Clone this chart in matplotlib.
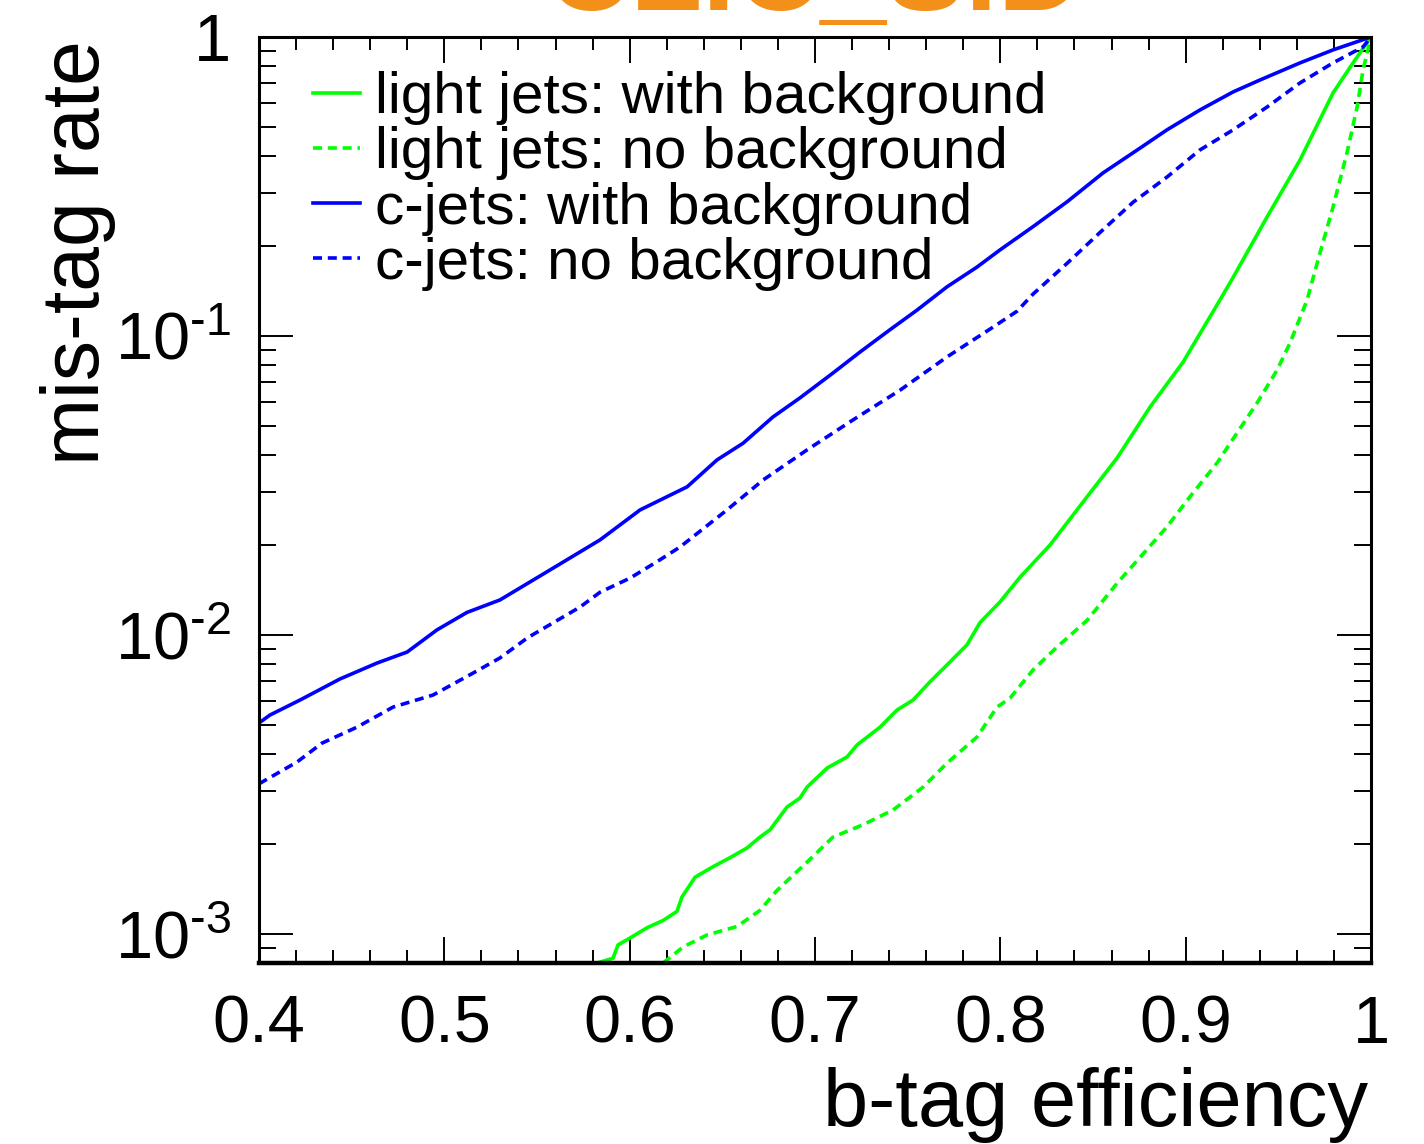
import numpy as np
import matplotlib
matplotlib.use("Agg")
import matplotlib.pyplot as plt
from matplotlib.ticker import MultipleLocator, LogLocator, FuncFormatter, NullFormatter

plt.rcParams["font.family"] = ["Liberation Sans", "DejaVu Sans"]
plt.rcParams["mathtext.fontset"] = "custom"
plt.rcParams["mathtext.rm"] = "Liberation Sans"
plt.rcParams["mathtext.it"] = "Liberation Sans:italic"
plt.rcParams["mathtext.bf"] = "Liberation Sans:bold"

# light jets, with background (b-tag eff vs mis-tag rate)
light_bkg_x = [0.5824, 0.591, 0.5937, 0.6002, 0.6094, 0.618, 0.6255, 0.6282, 0.6353, 0.645,
               0.6541, 0.6633, 0.6703, 0.6757, 0.6849, 0.6919, 0.6957, 0.7065, 0.7173, 0.7227,
               0.7351, 0.7442, 0.7529, 0.762, 0.7712, 0.782, 0.789, 0.7998, 0.8106, 0.8268,
               0.8468, 0.863, 0.8808, 0.8986, 0.9185, 0.9256, 0.9439, 0.9617, 0.9795, 0.9903, 1.0]
light_bkg_y = [0.00080, 0.00083, 0.00092, 0.00097, 0.00105, 0.00111, 0.00119, 0.00133, 0.00155, 0.00168,
               0.00180, 0.00194, 0.00211, 0.00223, 0.00266, 0.00285, 0.00310, 0.00359, 0.00391, 0.00429,
               0.00492, 0.00561, 0.00606, 0.00697, 0.00794, 0.00927, 0.0110, 0.0129, 0.0156, 0.0200,
               0.0290, 0.0391, 0.0579, 0.0818, 0.132, 0.157, 0.250, 0.388, 0.650, 0.819, 1.0]

# light jets, no background
light_nobkg_x = [0.618, 0.6288, 0.6417, 0.6579, 0.6703, 0.6795, 0.6957, 0.7097, 0.7259, 0.7421,
                 0.7583, 0.7712, 0.7874, 0.7982, 0.8052, 0.8176, 0.8306, 0.8468, 0.863, 0.8754,
                 0.8899, 0.9023, 0.9169, 0.9277, 0.9385, 0.9493, 0.9563, 0.9655, 0.9725, 0.9795,
                 0.987, 0.9925, 0.9957, 1.0]
light_nobkg_y = [0.00080, 0.000905, 0.000993, 0.00106, 0.00120, 0.00140, 0.00174, 0.00211, 0.00232, 0.00260,
                 0.00310, 0.00373, 0.00456, 0.00574, 0.00615, 0.00764, 0.00912, 0.0112, 0.0149, 0.0182,
                 0.0230, 0.0290, 0.0376, 0.0474, 0.0597, 0.0769, 0.0948, 0.132, 0.190, 0.270,
                 0.409, 0.583, 0.776, 1.0]

# c-jets, with background
c_bkg_x = [0.40, 0.4059, 0.4221, 0.4437, 0.4637, 0.4799, 0.496, 0.5122, 0.53, 0.557,
           0.584, 0.6056, 0.631, 0.6471, 0.6612, 0.6773, 0.6919, 0.7097, 0.7243, 0.7405,
           0.755, 0.7712, 0.7874, 0.7998, 0.8176, 0.836, 0.8554, 0.8754, 0.8899, 0.9077,
           0.9256, 0.9401, 0.9617, 0.9795, 1.0]
c_bkg_y = [0.00508, 0.00540, 0.00606, 0.00713, 0.00806, 0.00877, 0.0104, 0.0119, 0.0131, 0.0165,
           0.0208, 0.0262, 0.0313, 0.0385, 0.0438, 0.0536, 0.0621, 0.0752, 0.0884, 0.105,
           0.122, 0.146, 0.170, 0.194, 0.232, 0.281, 0.351, 0.425, 0.489, 0.570,
           0.655, 0.718, 0.819, 0.905, 1.0]

# c-jets, no background
c_nobkg_x = [0.40, 0.4205, 0.434, 0.4529, 0.4723, 0.4939, 0.5155, 0.53, 0.545, 0.5732,
             0.584, 0.6002, 0.6148, 0.6272, 0.6525, 0.672, 0.6957, 0.7205, 0.7459, 0.7712,
             0.796, 0.809, 0.8176, 0.836, 0.8538, 0.8716, 0.8899, 0.9077, 0.9256, 0.9439,
             0.9617, 0.9795, 0.9957, 1.0]
c_nobkg_y = [0.00318, 0.00376, 0.00435, 0.00492, 0.00574, 0.00630, 0.00746, 0.00838, 0.0098, 0.0124,
             0.0139, 0.0155, 0.0176, 0.0197, 0.0262, 0.0330, 0.0416, 0.0524, 0.0659, 0.0851,
             0.107, 0.121, 0.138, 0.175, 0.222, 0.280, 0.340, 0.419, 0.489, 0.583,
             0.702, 0.819, 0.926, 1.0]

labels = ["light jets: with background", "light jets: no background",
          "c-jets: with background", "c-jets: no background"]

GREEN = "#00ff00"
BLUE = "#0000ff"
DASH = (0, (2.5, 1.6))

fig = plt.figure(figsize=(14.24, 11.44), dpi=100)
ax = fig.add_axes([0.1819, 0.1582, 0.7809, 0.8095])

lw = 2.6
ax.plot(light_bkg_x, light_bkg_y, color=GREEN, lw=lw, label=labels[0])
ax.plot(light_nobkg_x, light_nobkg_y, color=GREEN, lw=lw, ls=DASH, label=labels[1])
ax.plot(c_bkg_x, c_bkg_y, color=BLUE, lw=lw, label=labels[2])
ax.plot(c_nobkg_x, c_nobkg_y, color=BLUE, lw=lw, ls=DASH, label=labels[3])

ax.set_yscale("log")
ax.set_xlim(0.4, 1.0)
ax.set_ylim(8e-4, 1.0)

# axes frame and ticks (ROOT style)
for side in ["left", "right", "top"]:
    ax.spines[side].set_linewidth(2.2)
ax.spines["bottom"].set_linewidth(3.2)

ax.xaxis.set_major_locator(MultipleLocator(0.1))
ax.xaxis.set_minor_locator(MultipleLocator(0.02))
ax.xaxis.set_major_formatter(FuncFormatter(lambda v, p: f"{v:g}"))
ax.yaxis.set_major_locator(LogLocator(base=10))
ax.yaxis.set_minor_locator(LogLocator(base=10, subs=np.arange(2, 10)))
ax.yaxis.set_minor_formatter(NullFormatter())


def ylab(v, p):
    e = int(round(np.log10(v)))
    if e == 0:
        return "1"
    return r"$10^{\text{%d}}$" % e


ax.yaxis.set_major_formatter(FuncFormatter(ylab))

ax.tick_params(axis="x", which="major", direction="in", length=18.7, width=1.4,
               top=True, bottom=True, labelsize=48, pad=23)
ax.tick_params(axis="x", which="minor", direction="in", length=9.4, width=1.4,
               top=True, bottom=True)
ax.tick_params(axis="y", which="major", direction="in", length=24.5, width=1.4,
               left=True, right=True, labelsize=48, pad=20)
ax.tick_params(axis="y", which="minor", direction="in", length=12.2, width=1.4,
               left=True, right=True)

ax.set_xlabel("b-tag efficiency", fontsize=58.5, loc="right")
ax.xaxis.set_label_coords(0.997, -0.112)
ax.set_ylabel("mis-tag rate", fontsize=58, loc="top")
ax.yaxis.set_label_coords(-0.129, 0.997)

ax.legend(loc="upper left", bbox_to_anchor=(0.0486, 0.963), frameon=False,
          fontsize=42, handlelength=0.8, handletextpad=0.26, labelspacing=0.02,
          borderpad=0, borderaxespad=0)

# detector title, cut off at the top edge as in the original
fig.text(0.5716, 0.9913, "CLIC_SiD", fontsize=85, fontweight="bold",
         color="#F39019", ha="center", va="baseline")

fig.savefig("out.png", dpi=100)
